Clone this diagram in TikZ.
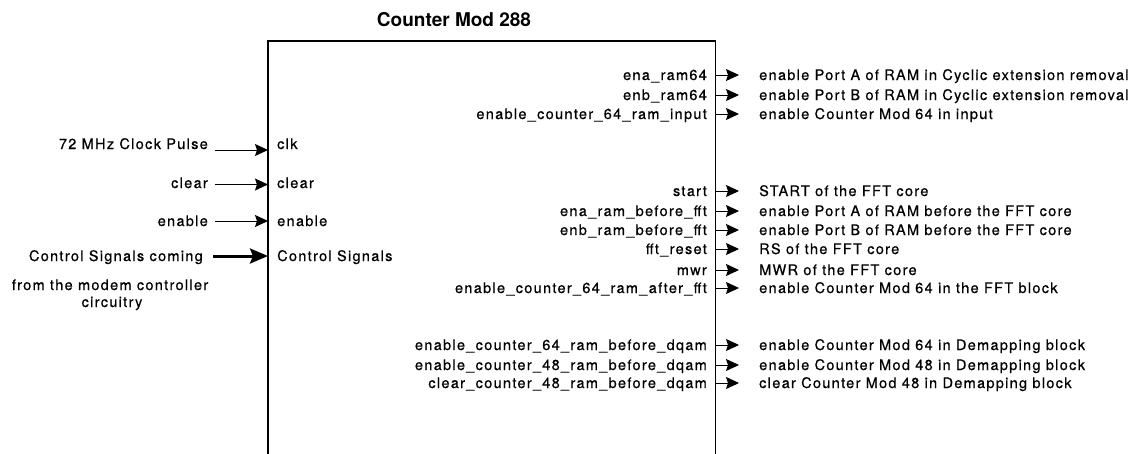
\documentclass[tikz,border=0pt]{standalone}
\usepackage{fontspec}
\setmainfont{TeX Gyre Heros}[LetterSpace=9, FakeBold=0.6]
\newfontfamily\titlefont{TeX Gyre Heros}
\usetikzlibrary{arrows.meta}
\begin{document}
\begin{tikzpicture}[x=1pt,y=-1pt,
  lbl/.style={font=\fontsize{14.5}{17}\selectfont, inner sep=0pt, text height=10.5pt, text depth=0.5pt},
  sig/.style={lbl,anchor=east},
  desc/.style={lbl,anchor=west},
  arr/.style={line width=1pt,-{Stealth[length=13pt,width=12pt,inset=2pt]}},
  thickarr/.style={line width=3pt,-{Stealth[length=18pt,width=15pt,inset=3pt]}},
  boxline/.style={line width=1.5pt}]
\useasboundingbox (0,0) rectangle (1143,453);
\node[font=\titlefont\bfseries\fontsize{19}{22}\selectfont, inner sep=0pt] (title) at (454,20) {Counter Mod 288};
\node[draw=none, minimum width=447pt, minimum height=425pt, inner sep=0pt, anchor=north west] (box) at (268,41) {};
\draw[boxline] (box.south west) -- (box.north west) -- (box.north east) -- (box.south east);

% inputs
\node[sig] (inclk) at (208,144) {72 MHz Clock Pulse};
\node[sig] (inclr) at (208,183) {clear};
\node[sig] (inen) at (208,221) {enable};
\node[sig] (inctl) at (203,256) {Control Signals coming};
\node[lbl] (inctlb) at (110,285) {from the modem controller};
\node[lbl] (inctlc) at (112,302) {circuitry};

\node[desc] (pclk) at (277,144) {clk};
\node[desc] (pclr) at (277,183) {clear};
\node[desc] (pen) at (277,221) {enable};
\node[desc] (pctl) at (277,256) {Control Signals};

\coordinate (aclk) at ([yshift=-6pt]inclk.east);
\draw[arr] ([xshift=7pt]aclk) -- (aclk -| box.west);
\coordinate (aclr) at ([yshift=-1.5pt]inclr.east);
\draw[arr] ([xshift=7pt]aclr) -- (aclr -| box.west);
\draw[arr] ([xshift=7pt]inen.east) -- (inen.east -| box.west);
\draw[thickarr] ([xshift=10pt]inctl.east) -- (inctl.east -| box.west);

% outputs
\foreach \i/\y/\s/\d in {
  1/75/ena\_ram64/enable Port A of RAM in Cyclic extension removal,
  2/95/enb\_ram64/enable Port B of RAM in Cyclic extension removal,
  3/114/enable\_counter\_64\_ram\_input/enable Counter Mod 64 in input,
  4/191/start/START of the FFT core,
  5/211/ena\_ram\_before\_fft/enable Port A of RAM before the FFT core,
  6/230/enb\_ram\_before\_fft/enable Port B of RAM before the FFT core,
  7/249/fft\_reset/RS of the FFT core,
  8/270/mwr/MWR of the FFT core,
  9/288/enable\_counter\_64\_ram\_after\_fft/enable Counter Mod 64 in the FFT block,
  10/345/enable\_counter\_64\_ram\_before\_dqam/enable Counter Mod 64 in Demapping block,
  11/365/enable\_counter\_48\_ram\_before\_dqam/enable Counter Mod 48 in Demapping block,
  12/383/clear\_counter\_48\_ram\_before\_dqam/clear Counter Mod 48 in Demapping block}{
  \node[sig] (s\i) at (707,\y) {\s};
  \node[desc] (d\i) at (759,\y) {\d};
  \draw[arr] (s\i.east -| box.east) -- ([xshift=-20pt]d\i.west);
}
\end{tikzpicture}
\end{document}
